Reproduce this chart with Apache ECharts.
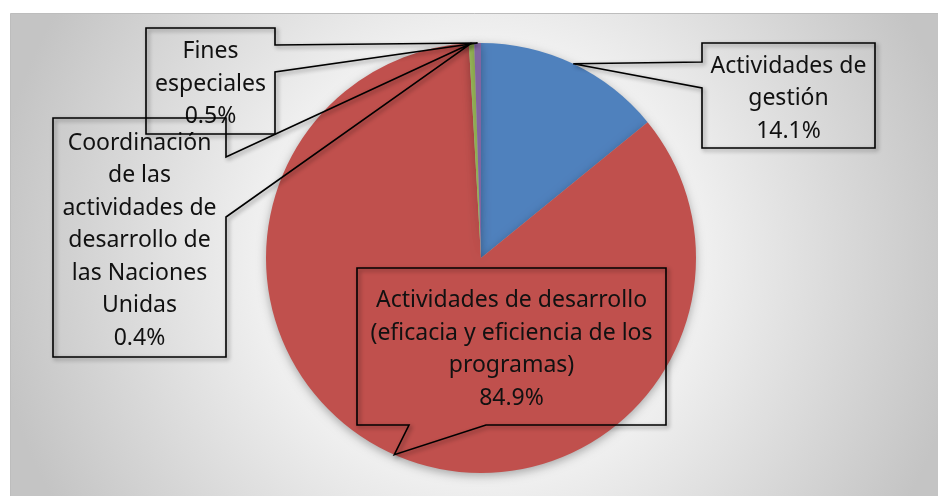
<!DOCTYPE html>
<html>
<head>
<meta charset="utf-8">
<script src="https://cdn.jsdelivr.net/npm/echarts@6/dist/echarts.min.js"></script>
<style>
html, body { margin: 0; padding: 0; background: #fff; }
#chart { width: 938px; height: 496px; }
</style>
</head>
<body>
<div id="chart"></div>
<script>
var categories = [
    'Actividades de\ngestión',
    'Actividades de desarrollo\n(eficacia y eficiencia de los\nprogramas)',
    'Coordinación\nde las\nactividades de\ndesarrollo de\nlas Naciones\nUnidas',
    'Fines\nespeciales'
];
var values = [14.1, 84.9, 0.4, 0.5];
var colors = ['#4f81bd', '#c0504d', '#9bbb59', '#8064a2'];

var chart = echarts.init(document.getElementById('chart'));
var center = [481, 258], radius = 215;

// callout boxes: [left, top, right, bottom], side the pointer leaves from, pointer base
var boxes = [
    { rect: [702, 43, 875, 148], side: 'left', base: [62, 88] },
    { rect: [357, 268, 666, 425], side: 'bottom', base: [409, 486] },
    { rect: [53, 118, 226, 357], side: 'right', base: [157, 217] },
    { rect: [146, 28, 275, 134], side: 'right', base: [45, 72] }
];

var total = values.reduce(function (a, b) { return a + b; }, 0);

// pointer tip = middle of the slice on its outer edge
function tipOf(i) {
    var before = 0;
    for (var k = 0; k < i; k++) before += values[k];
    var a = (before + values[i] / 2) / total * 2 * Math.PI;
    return [center[0] + radius * Math.sin(a), center[1] - radius * Math.cos(a)];
}

function calloutPoints(i) {
    var b = boxes[i], l = b.rect[0], t = b.rect[1], r = b.rect[2], btm = b.rect[3];
    var tip = tipOf(i);
    if (b.side == 'left') {
        return [[l, t], [r, t], [r, btm], [l, btm], [l, b.base[1]], tip, [l, b.base[0]]];
    }
    if (b.side == 'bottom') {
        return [[l, t], [r, t], [r, btm], [b.base[1], btm], tip, [b.base[0], btm], [l, btm]];
    }
    return [[l, t], [r, t], [r, b.base[0]], tip, [r, b.base[1]], [r, btm], [l, btm]];
}

var graphics = [{
    type: 'rect',
    z: -10,
    shape: { x: 10.5, y: 13.5, width: 940, height: 490 },
    style: {
        fill: {
            type: 'radial', x: 0.5, y: 0.5, r: 1,
            colorStops: [
                { offset: 0, color: '#f5f5f5' },
                { offset: 0.45, color: '#f0f0f0' },
                { offset: 1, color: '#c4c4c4' }
            ]
        },
        stroke: '#bdbdbd',
        lineWidth: 1
    }
}];
for (var i = 0; i < values.length; i++) {
    graphics.push({
        type: 'polygon',
        z: 100,
        shape: { points: calloutPoints(i) },
        style: {
            fill: 'none',
            stroke: '#000',
            lineWidth: 1.6,
            shadowBlur: 4,
            shadowOffsetX: 2,
            shadowOffsetY: 2,
            shadowColor: 'rgba(0,0,0,0.45)'
        }
    });
}

var option = {
    animation: false,
    graphic: graphics,
    color: colors,
    series: [{
        type: 'pie',
        center: center,
        radius: radius,
        startAngle: 90,
        clockwise: true,
        avoidLabelOverlap: false,
        itemStyle: {
            borderWidth: 0,
            shadowBlur: 10,
            shadowOffsetY: 3,
            shadowColor: 'rgba(0,0,0,0.3)'
        },
        label: {
            show: true,
            position: 'outside',
            color: '#111',
            fontFamily: 'Noto Sans',
            fontSize: 23,
            lineHeight: 32.5,
            align: 'center',
            formatter: function (p) {
                return p.name + '\n' + p.value.toFixed(1) + '%';
            }
        },
        labelLine: { show: false },
        labelLayout: function (params) {
            var b = boxes[params.dataIndex].rect;
            return {
                x: (b[0] + b[2]) / 2,
                y: (b[1] + b[3]) / 2 + 3,
                align: 'center',
                verticalAlign: 'middle'
            };
        },
        data: categories.map(function (c, i) {
            return { name: c, value: values[i] };
        })
    }]
};

chart.setOption(option);
</script>
</body>
</html>
